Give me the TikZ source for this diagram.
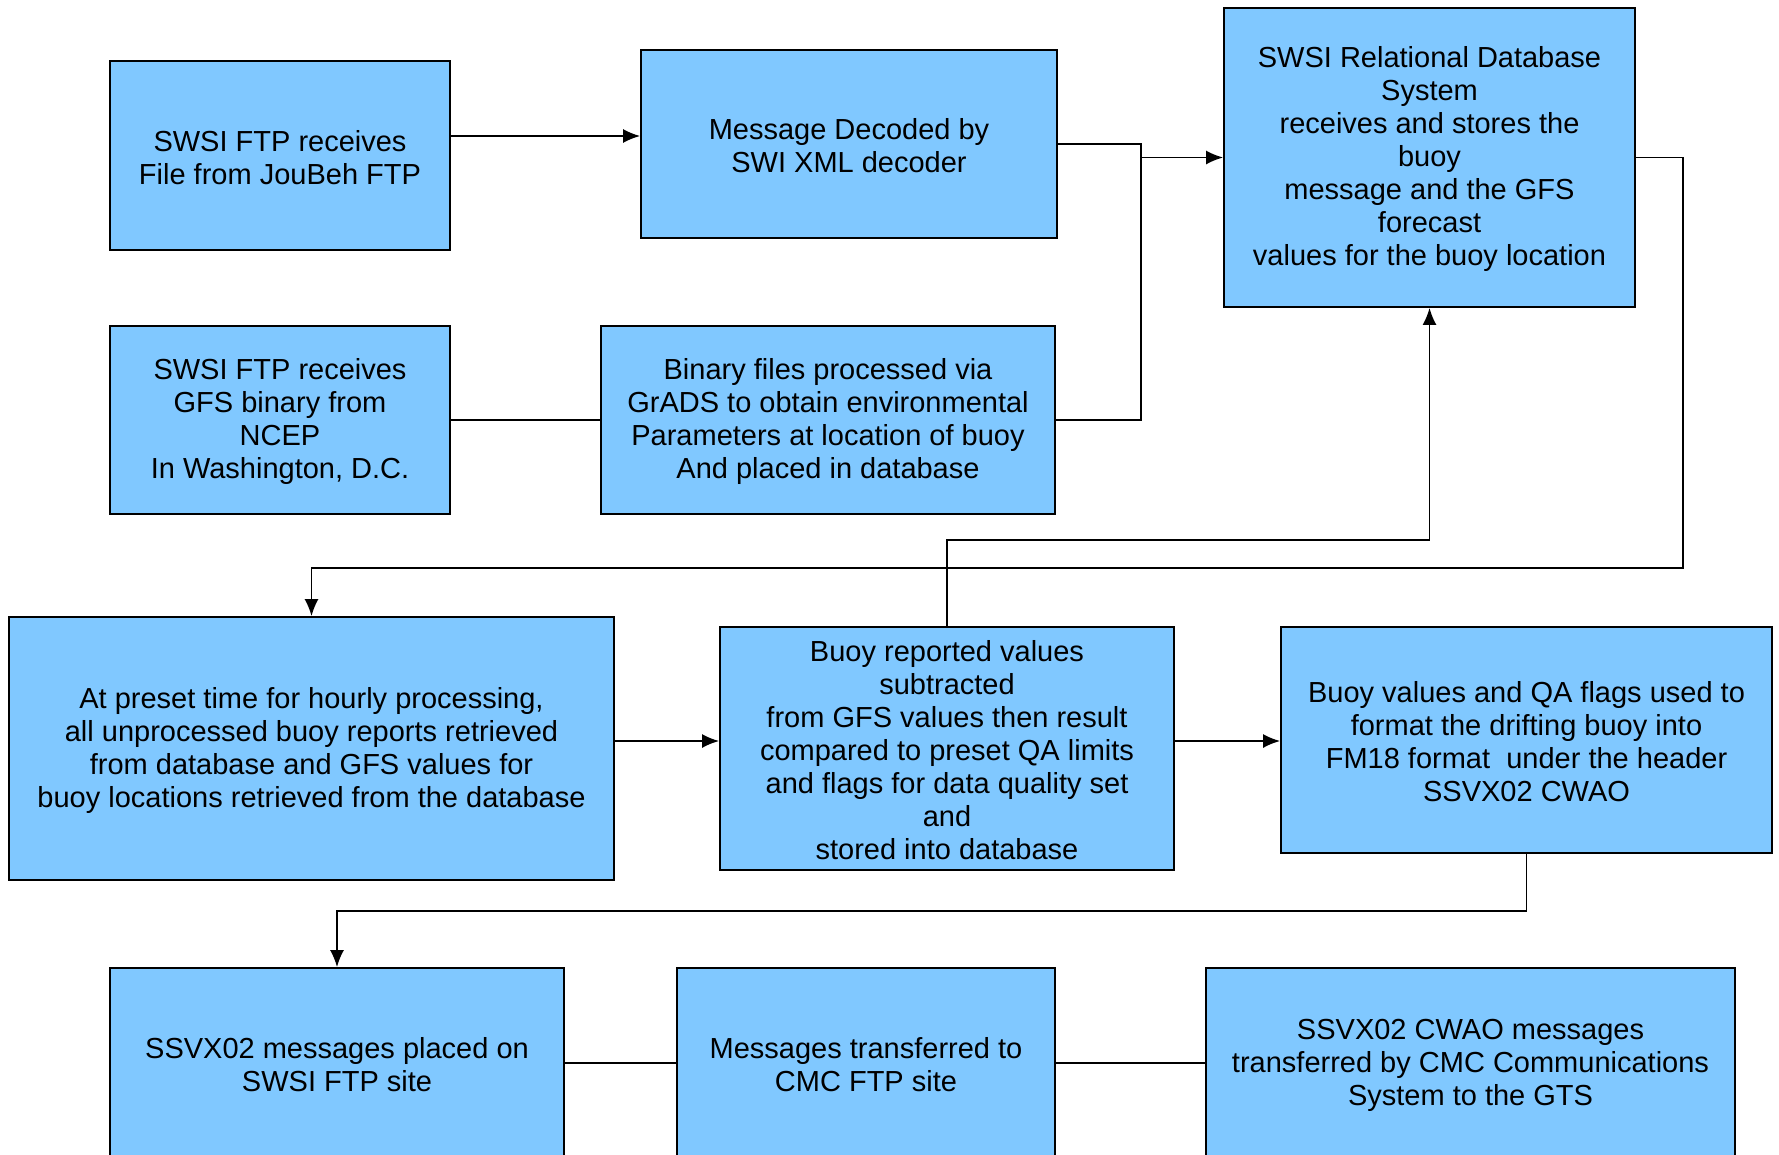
\documentclass[tikz,border=0pt]{standalone}
\usepackage{fontspec}
\setmainfont{Liberation Sans}
\usetikzlibrary{arrows.meta}
\definecolor{boxblue}{RGB}{128,200,255}
\newcommand{\tstrut}{\rule{0pt}{25pt}}

\begin{document}
\begin{tikzpicture}[x=1pt, y=-1pt,
        blk/.style={draw, fill=boxblue, line width=1.8pt, align=center, inner sep=0pt,
            font=\fontsize{29}{33}\selectfont},
        con/.style={line width=1.8pt},
        arr/.style={con, -{Latex[length=17pt,width=14pt]}}]
        \clip (0, 0) rectangle (1779, 1154);
        \fill[white] (0, 0) rectangle (1779, 1154);

        % top rows
        \node[blk, minimum width=340, minimum height=189] (ftpa) at (280, 155.5)
            {\tstrut SWSI FTP receives\\File from JouBeh FTP};
        \node[blk, minimum width=416, minimum height=188] (decode) at (849, 144)
            {\tstrut Message Decoded by\\SWI XML decoder};
        \node[blk, minimum width=411, minimum height=299] (rdbs) at (1429.5, 157.5)
            {\tstrut SWSI Relational Database\\System\\receives and stores the\\buoy\\message and the GFS\\forecast\\values for the buoy location};
        \node[blk, minimum width=340, minimum height=188] (ftpb) at (280, 420)
            {\tstrut SWSI FTP receives\\GFS binary from\\NCEP\\In Washington, D.C.};
        \node[blk, minimum width=454, minimum height=188] (grads) at (828, 420)
            {\tstrut Binary files processed via\\GrADS to obtain environmental\\Parameters at location of buoy\\And placed in database};

        % middle row
        \node[blk, minimum width=605, minimum height=263] (preset) at (311.5, 748.5)
            {\tstrut At preset time for hourly processing,\\all unprocessed buoy reports retrieved\\from database and GFS values for\\buoy locations retrieved from the database};
        \node[blk, minimum width=454, minimum height=243] (qa) at (947, 748.5)
            {\tstrut Buoy reported values\\subtracted\\from GFS values then result\\compared to preset QA limits\\and flags for data quality set\\and\\stored into database};
        \node[blk, minimum width=491, minimum height=226] (fm18) at (1526.5, 740)
            {\tstrut Buoy values and QA flags used to\\format the drifting buoy into\\FM18 format~ under the header\\SSVX02 CWAO};

        % bottom row (cut off by the page)
        \node[blk, minimum width=454, minimum height=190] (placed) at (337, 1063)
            {\tstrut SSVX02 messages placed on\\SWSI FTP site};
        \node[blk, minimum width=378, minimum height=190] (cmc) at (866, 1063)
            {\tstrut Messages transferred to\\CMC FTP site};
        \node[blk, minimum width=529, minimum height=190] (gts) at (1470.5, 1063)
            {\tstrut SSVX02 CWAO messages\\transferred by CMC Communications\\System to the GTS};

        \coordinate (join) at (1141, 157.5);

        \draw[arr] (ftpa.east |- 0, 136) -- (decode.west |- 0, 136);
        \draw[arr] (decode.east |- 0, 144) -| (join) -- (rdbs.west);
        \draw[con] (grads.east) -| (join);
        \draw[con] (ftpb.east) -- (grads.west);
        \draw[arr] (rdbs.east) -| (1683, 568) -| (preset.north);
        \draw[arr] (qa.north) |- (rdbs.south |- 0, 540) -- (rdbs.south);
        \draw[arr] (preset.east |- 0, 741) -- (qa.west |- 0, 741);
        \draw[arr] (qa.east |- 0, 741) -- (fm18.west |- 0, 741);
        \draw[arr] (fm18.south) -- ++(0, 57) -| (placed.north);
        \draw[con] (placed.east) -- (cmc.west);
        \draw[con] (cmc.east) -- (gts.west);
    \end{tikzpicture}
\end{document}
